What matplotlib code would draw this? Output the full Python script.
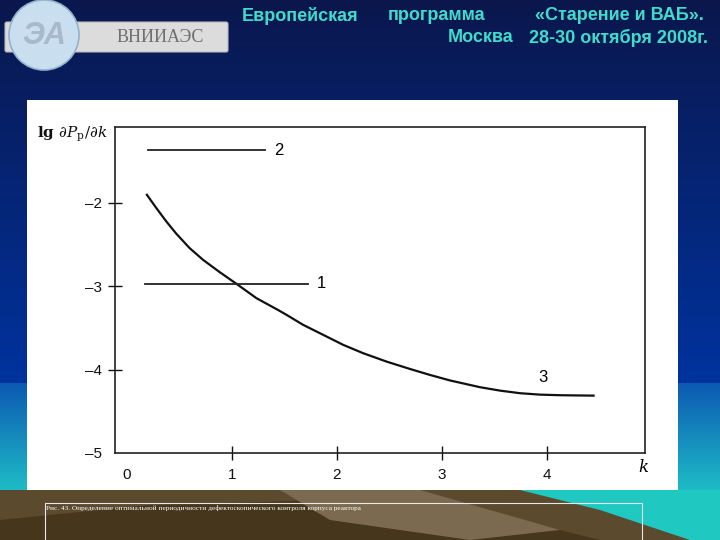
import matplotlib.pyplot as plt
import numpy as np
from matplotlib.patches import Rectangle, Ellipse, FancyBboxPatch, Polygon

plt.rcParams['font.family'] = ['Liberation Sans', 'DejaVu Sans']
plt.rcParams['mathtext.fontset'] = 'dejavuserif'

# данные
k3 = [0.193, 0.283, 0.378, 0.473, 0.600, 0.727, 0.886, 1.045, 1.235, 1.441, 1.521, 1.679,
      1.870, 2.060, 2.250, 2.473, 2.695, 2.886, 3.076, 3.171, 3.362, 3.552, 3.743, 3.933,
      4.124, 4.441]
lg3 = [-1.903, -2.062, -2.223, -2.370, -2.543, -2.683, -2.831, -2.971, -3.143, -3.285, -3.343,
       -3.463, -3.583, -3.703, -3.803, -3.904, -3.992, -4.064, -4.130, -4.157, -4.211, -4.252,
       -4.283, -4.300, -4.307, -4.312]
k1 = [0.18, 1.73]
lg1 = [-2.97, -2.97]
k2 = [0.20, 1.32]
lg2 = [-1.37, -1.37]
xticks = [0, 1, 2, 3, 4]
yticks = [-5, -4, -3, -2]

fig = plt.figure(figsize=(7.2, 5.4), dpi=100)

# фон слайда (в пикселях)
bg = fig.add_axes([0, 0, 1, 1])
bg.set_xlim(0, 720)
bg.set_ylim(540, 0)
bg.axis('off')

top = np.array([0.04, 0.09, 0.30])
mid = np.array([0.00, 0.20, 0.62])
low1 = np.array([0.05, 0.35, 0.70])
low2 = np.array([0.12, 0.75, 0.78])
grad = np.zeros((540, 1, 3))
for r in range(540):
    if r < 383:
        t = r / 383
        grad[r, 0] = top * (1 - t) + mid * t
    else:
        t = min((r - 383) / 110, 1)
        grad[r, 0] = low1 * (1 - t) + low2 * t
bg.imshow(grad, extent=(0, 720, 540, 0), aspect='auto')

# низ: коричневые горы и бирюзовый угол
bg.add_patch(Rectangle((0, 490), 720, 50, fc='#5b4a2e', ec='none'))
bg.add_patch(Polygon([(520, 490), (720, 490), (720, 540), (690, 540), (600, 510)], fc='#1fc8c0', ec='none'))
bg.add_patch(Polygon([(0, 520), (150, 505), (330, 500), (520, 520), (600, 540), (0, 540)], fc='#46361c', ec='none'))
bg.add_patch(Polygon([(280, 490), (420, 490), (560, 530), (470, 540), (330, 520)], fc='#7b6a50', ec='none'))

# логотип
bg.add_patch(FancyBboxPatch((5, 22), 223, 30, boxstyle='round,pad=0,rounding_size=2',
                            fc='#dcdcdc', ec='#b8b8b8', lw=0.8))
bg.add_patch(Ellipse((44, 35), 70, 70, fc='#c9deee', ec='#93b2cc', lw=1.2))
bg.text(44, 36, 'ЭА', fontsize=22, fontweight='bold', style='italic', color='#a9b9cd',
        ha='center', va='center')
bg.text(160, 37, 'ВНИИАЭС', fontsize=13, family=['Liberation Serif', 'DejaVu Serif'],
        color='#6f6f6f', ha='center', va='center')

# заголовок
hc = '#3fdccb'
hs = 13
bg.text(242, 16, 'Европейская', fontsize=hs, fontweight='bold', color=hc, va='center')
bg.text(388, 16, 'программа', fontsize=hs, fontweight='bold', color=hc, va='center')
bg.text(704, 16, '«Старение и ВАБ».', fontsize=hs, fontweight='bold', color=hc, va='center', ha='right')
bg.text(448, 38, 'Москва', fontsize=hs, fontweight='bold', color=hc, va='center')
bg.text(708, 38, '28-30 октября 2008г.', fontsize=hs, fontweight='bold', color=hc, va='center', ha='right')

# белая панель с графиком
bg.add_patch(Rectangle((27, 100), 651, 390, fc='white', ec='none'))

# подпись
bg.add_patch(Rectangle((45, 503), 597, 45, fc='none', ec='#e8e8e8', lw=0.8))
bg.text(46, 508, 'Рис. 43. Определение оптимальной периодичности дефектоскопического контроля корпуса реактора',
        fontsize=5.2, family=['Liberation Serif', 'DejaVu Serif'], color='white', va='center')

# подпись оси y
bg.text(37, 134, r'lg $\partial P_\mathrm{p}/\partial k$', fontsize=11, color='#111',
        family=['DejaVu Serif'], fontweight='bold', va='center')

ax = fig.add_axes([115 / 720, 1 - 453 / 540, 530 / 720, 326 / 540])
ax.set_facecolor('white')
ax.plot(k3, lg3, color='#111', lw=1.6)
ax.plot(k1, lg1, color='#222', lw=1.3)
ax.plot(k2, lg2, color='#222', lw=1.3)
ax.set_xlim(-0.11, 4.93)
ax.set_ylim(-5, -1.09)

ax.text(1.85, -2.97, '1', fontsize=12, va='center', ha='center')
ax.text(1.45, -1.37, '2', fontsize=12, va='center', ha='center')
ax.text(3.96, -4.10, '3', fontsize=12, va='center', ha='center')
ax.text(4.91, -5.17, 'k', fontsize=12, style='italic', family=['DejaVu Serif'],
        va='center', ha='center', clip_on=False)

ax.set_xticks(xticks)
ax.set_yticks(yticks)
ax.set_yticklabels(['\u2013' + str(abs(v)) for v in yticks])
ax.tick_params(direction='inout', length=10, width=1, labelsize=11, colors='#111')
ax.tick_params(axis='x', pad=6)
ax.tick_params(axis='y', pad=4)
ax.xaxis.get_major_ticks()[0].tick1line.set_visible(False)
ax.yaxis.get_major_ticks()[0].tick1line.set_visible(False)
for s in ax.spines.values():
    s.set_linewidth(1.2)
    s.set_color('#222')

fig.savefig('out.png', dpi=100)
